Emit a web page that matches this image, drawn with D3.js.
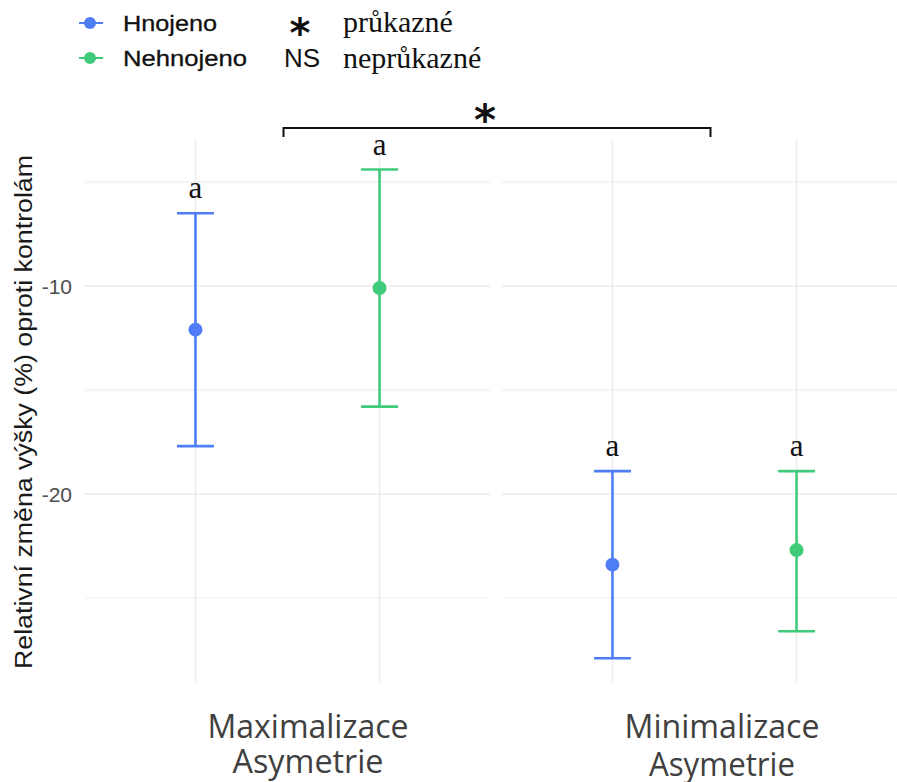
<!DOCTYPE html>
<html>
<head>
<meta charset="utf-8">
<script src="https://cdn.jsdelivr.net/npm/d3@7"></script>
<style>
  body { margin: 0; background: #fff; }
  svg { display: block; }
</style>
</head>
<body>
<svg id="chart" width="897" height="782"></svg>
<script>
// data
const panels = ["Maximalizace Asymetrie", "Minimalizace Asymetrie"];
const treatments = ["Hnojeno", "Nehnojeno"];
const means = [[-12.1, -10.1], [-23.4, -22.7]];
const lower = [[-17.7, -15.8], [-27.9, -26.6]];
const upper = [[-6.5, -4.4], [-18.9, -18.9]];
const letters = [["a", "a"], ["a", "a"]];
const yTicks = [-10, -20];
const yMinor = [-5, -15, -25];

const colors = { Hnojeno: "#4f7df5", Nehnojeno: "#40cb7b" };

const svg = d3.select("#chart");

const panelW = 405;
const panelX = d3.scaleOrdinal().domain(panels).range([85, 502]);
const inner = d3.scalePoint().domain(treatments).range([0, panelW]).padding(0.6);
const y = d3.scaleLinear().domain([-29.09, -2.98]).range([683, 140]);

// panels
panels.forEach(function (p, i) {
    const g = svg.append("g").attr("transform", "translate(" + panelX(p) + ",0)");
    const w = i === 0 ? panelW : 897 - panelX(p);

    g.selectAll("line.minor")
        .data(yMinor)
        .enter()
        .append("line")
        .attr("x1", 0).attr("x2", w)
        .attr("y1", d => y(d)).attr("y2", d => y(d))
        .attr("stroke", "#f1f1f1").attr("stroke-width", 1.3);

    g.selectAll("line.major")
        .data(yTicks)
        .enter()
        .append("line")
        .attr("x1", 0).attr("x2", w)
        .attr("y1", d => y(d)).attr("y2", d => y(d))
        .attr("stroke", "#ebebeb").attr("stroke-width", 1.5);

    g.selectAll("line.vgrid")
        .data(treatments)
        .enter()
        .append("line")
        .attr("x1", d => inner(d)).attr("x2", d => inner(d))
        .attr("y1", 140).attr("y2", 683)
        .attr("stroke", "#ebebeb").attr("stroke-width", 1.5);

    treatments.forEach(function (t, j) {
        const cx = inner(t);
        const col = colors[t];
        g.append("line")
            .attr("x1", cx).attr("x2", cx)
            .attr("y1", y(upper[i][j])).attr("y2", y(lower[i][j]))
            .attr("stroke", col).attr("stroke-width", 2.6);
        [upper[i][j], lower[i][j]].forEach(function (v) {
            g.append("line")
                .attr("x1", cx - 18.5).attr("x2", cx + 18.5)
                .attr("y1", y(v)).attr("y2", y(v))
                .attr("stroke", col).attr("stroke-width", 2.6);
        });
        g.append("circle")
            .attr("cx", cx).attr("cy", y(means[i][j]))
            .attr("r", 7).attr("fill", col);
        g.append("text")
            .attr("x", cx).attr("y", y(upper[i][j]) - 15)
            .attr("text-anchor", "middle")
            .attr("font-family", "Liberation Serif, Times New Roman, serif")
            .attr("font-size", 31)
            .attr("fill", "#111")
            .text(letters[i][j]);
    });
});

// y axis labels
svg.selectAll("text.ytick")
    .data(yTicks)
    .enter()
    .append("text")
    .attr("x", 72).attr("y", d => y(d))
    .attr("dy", "0.36em")
    .attr("text-anchor", "end")
    .attr("font-family", "Liberation Sans, Arial, sans-serif")
    .attr("font-size", 21)
    .attr("fill", "#4d4d4d")
    .text(d => d);

svg.append("text")
    .attr("transform", "translate(32,412) rotate(-90)")
    .attr("text-anchor", "middle")
    .attr("font-family", "Liberation Sans, Arial, sans-serif")
    .attr("font-size", 23)
    .attr("textLength", 514)
    .attr("lengthAdjust", "spacingAndGlyphs")
    .attr("fill", "#1a1a1a")
    .text("Relativní změna výšky (%) oproti kontrolám");

// x category labels
const xLabelCenters = [308, 722];
const xLabelBase = [[738, 773], [738, 776]];
const xLabelLen = [[201, 151], [195, 146]];
panels.forEach(function (p, i) {
    p.split(" ").forEach(function (w, k) {
        svg.append("text")
            .attr("x", xLabelCenters[i])
            .attr("y", xLabelBase[i][k])
            .attr("text-anchor", "middle")
            .attr("font-family", "Open Sans, Lato, sans-serif")
            .attr("font-size", 32)
            .attr("textLength", xLabelLen[i][k])
            .attr("lengthAdjust", "spacingAndGlyphs")
            .attr("fill", "#404040")
            .text(w);
    });
});

// significance bracket
const bx1 = panelX(panels[0]) + panelW / 2 - 4;
const bx2 = panelX(panels[1]) + panelW / 2 + 6;
svg.append("path")
    .attr("d", "M" + bx1 + ",137V128H" + bx2 + "V137")
    .attr("fill", "none")
    .attr("stroke", "#111")
    .attr("stroke-width", 2);
svg.append("text")
    .attr("x", 485).attr("y", 135)
    .attr("text-anchor", "middle")
    .attr("font-family", "DejaVu Sans, sans-serif")
    .attr("font-weight", "bold")
    .attr("font-size", 42)
    .attr("fill", "#111")
    .text("*");

// legend
treatments.forEach(function (t, k) {
    const ly = 23 + k * 35;
    svg.append("line")
        .attr("x1", 79).attr("x2", 103)
        .attr("y1", ly).attr("y2", ly)
        .attr("stroke", colors[t]).attr("stroke-width", 2);
    svg.append("circle")
        .attr("cx", 90).attr("cy", ly).attr("r", 6)
        .attr("fill", colors[t]);
    svg.append("text")
        .attr("x", 123).attr("y", ly)
        .attr("dy", "0.35em")
        .attr("font-family", "Liberation Sans, Arial, sans-serif")
        .attr("font-size", 22)
        .attr("textLength", k === 0 ? 94 : 124)
        .attr("lengthAdjust", "spacingAndGlyphs")
        .attr("fill", "#111")
        .attr("stroke", "#111")
        .attr("stroke-width", 0.3)
        .text(t);
});

svg.append("text")
    .attr("x", 300).attr("y", 47)
    .attr("text-anchor", "middle")
    .attr("font-family", "DejaVu Sans, sans-serif")
    .attr("font-weight", "bold")
    .attr("font-size", 40)
    .attr("fill", "#111")
    .text("*");
svg.append("text")
    .attr("x", 302).attr("y", 67)
    .attr("text-anchor", "middle")
    .attr("font-family", "Liberation Sans, Arial, sans-serif")
    .attr("font-size", 26)
    .attr("fill", "#111")
    .text("NS");
svg.append("text")
    .attr("x", 343).attr("y", 32)
    .attr("font-family", "Liberation Serif, Times New Roman, serif")
    .attr("font-size", 30)
    .attr("fill", "#111")
    .text("průkazné");
svg.append("text")
    .attr("x", 343).attr("y", 68)
    .attr("font-family", "Liberation Serif, Times New Roman, serif")
    .attr("font-size", 30)
    .attr("fill", "#111")
    .text("neprůkazné");
</script>
</body>
</html>
